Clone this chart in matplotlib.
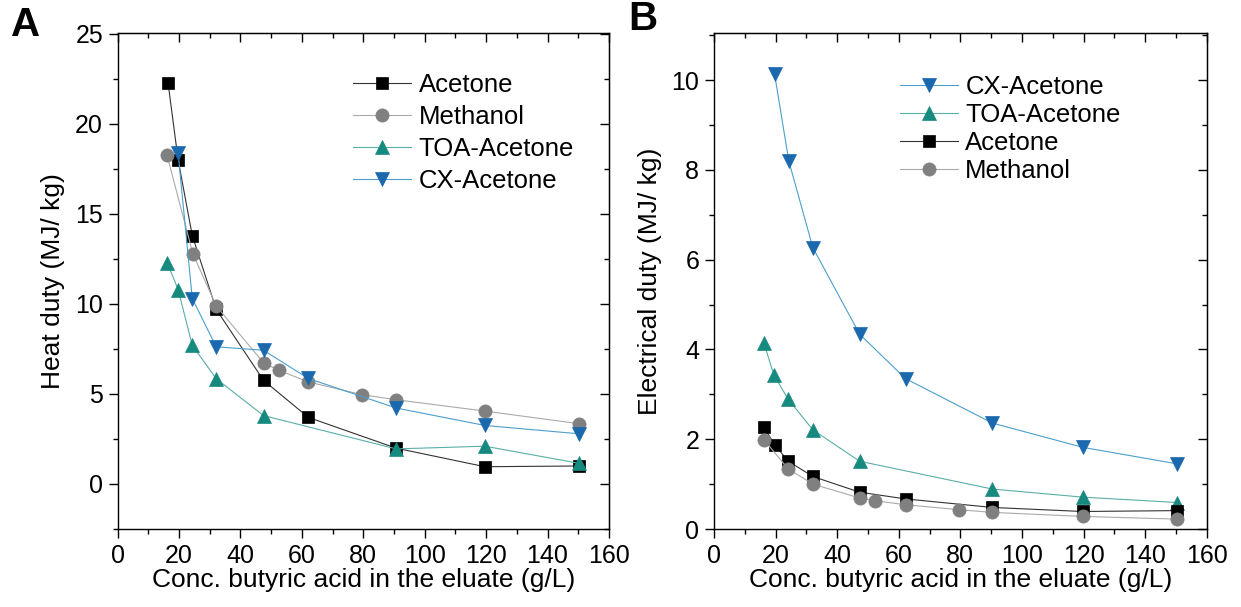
import matplotlib
matplotlib.use("Agg")
import matplotlib.pyplot as plt
from matplotlib.ticker import MultipleLocator

plt.rcParams['font.family'] = ['Liberation Sans', 'DejaVu Sans']

# ---- Panel A: Heat duty ----
a_acetone_x = [16.4, 19.7, 24.3, 32.1, 47.5, 62.1, 90.7, 119.6, 150.2]
a_acetone_y = [22.3, 18.0, 13.8, 9.7, 5.76, 3.7, 1.99, 0.96, 1.0]
a_methanol_x = [16.1, 24.5, 32.1, 47.5, 52.4, 62.1, 79.6, 90.7, 119.6, 150.2]
a_methanol_y = [18.25, 12.79, 9.89, 6.73, 6.32, 5.67, 4.96, 4.68, 4.05, 3.35]
a_toa_x = [16.1, 19.7, 24.3, 32.1, 47.5, 90.7, 119.6, 150.2]
a_toa_y = [12.3, 10.8, 7.7, 5.85, 3.8, 1.95, 2.1, 1.15]
a_cx_x = [19.7, 24.3, 32.1, 47.5, 62.1, 90.7, 119.6, 150.2]
a_cx_y = [18.37, 10.3, 7.62, 7.43, 5.86, 4.22, 3.25, 2.79]

# ---- Panel B: Electrical duty ----
b_cx_x = [19.7, 24.3, 32.1, 47.3, 62.2, 90.4, 119.7, 150.5]
b_cx_y = [10.13, 8.2, 6.27, 4.34, 3.35, 2.36, 1.82, 1.45]
b_toa_x = [16.2, 19.4, 24.1, 32.1, 47.3, 90.4, 119.7, 150.5]
b_toa_y = [4.15, 3.44, 2.89, 2.21, 1.51, 0.89, 0.71, 0.59]
b_acetone_x = [16.2, 19.7, 24.1, 32.1, 47.3, 62.2, 90.4, 119.7, 150.5]
b_acetone_y = [2.27, 1.88, 1.51, 1.17, 0.82, 0.67, 0.48, 0.39, 0.41]
b_methanol_x = [16.2, 24.1, 32.1, 47.3, 52.4, 62.2, 79.6, 90.4, 119.7, 150.5]
b_methanol_y = [1.99, 1.34, 1.0, 0.69, 0.63, 0.54, 0.43, 0.37, 0.28, 0.22]

x_label = "Conc. butyric acid in the eluate (g/L)"
ya_label = "Heat duty (MJ/ kg)"
yb_label = "Electrical duty (MJ/ kg)"

FS_TICK = 18
FS_LABEL = 19
FS_LEG = 18.5

styles = {
    'Acetone': dict(marker='s', color='#333333', mfc='black', mec='black', ms=9),
    'Methanol': dict(marker='o', color='#aaaaaa', mfc='#808080', mec='#808080', ms=9.5),
    'TOA-Acetone': dict(marker='^', color='#5aaea8', mfc='#178a80', mec='#178a80', ms=10.5),
    'CX-Acetone': dict(marker='v', color='#4c9fcc', mfc='#1a68ad', mec='#1a68ad', ms=10.5),
}

fig = plt.figure(figsize=(12.41, 6.07), dpi=100)
axA = fig.add_axes([0.0948, 0.1285, 0.3959, 0.8171])
axB = fig.add_axes([0.5753, 0.1285, 0.3971, 0.8171])

def plot(ax, name, x, y):
    s = styles[name]
    ax.plot(x, y, linestyle='-', lw=0.8, color=s['color'], marker=s['marker'],
            markersize=s['ms'], markerfacecolor=s['mfc'], markeredgecolor=s['mec'],
            markeredgewidth=0.5, label=name)

plot(axA, 'Acetone', a_acetone_x, a_acetone_y)
plot(axA, 'Methanol', a_methanol_x, a_methanol_y)
plot(axA, 'TOA-Acetone', a_toa_x, a_toa_y)
plot(axA, 'CX-Acetone', a_cx_x, a_cx_y)

plot(axB, 'CX-Acetone', b_cx_x, b_cx_y)
plot(axB, 'TOA-Acetone', b_toa_x, b_toa_y)
plot(axB, 'Acetone', b_acetone_x, b_acetone_y)
plot(axB, 'Methanol', b_methanol_x, b_methanol_y)

axA.set_xlim(0, 160)
axA.set_ylim(-2.5, 25.05)
axA.yaxis.set_major_locator(MultipleLocator(5))
axA.yaxis.set_minor_locator(MultipleLocator(2.5))
axB.set_xlim(0, 160)
axB.set_ylim(0, 11.05)
axB.yaxis.set_major_locator(MultipleLocator(2))
axB.yaxis.set_minor_locator(MultipleLocator(1))

for ax in (axA, axB):
    ax.xaxis.set_major_locator(MultipleLocator(20))
    ax.xaxis.set_minor_locator(MultipleLocator(10))
    for sp in ax.spines.values():
        sp.set_linewidth(1.0)
    ax.tick_params(which='major', direction='out', length=6.5, width=1.0,
                   labelsize=FS_TICK, pad=4)
    ax.tick_params(which='minor', direction='out', length=3.5, width=1.0)
    ax.set_xlabel(x_label, fontsize=FS_LABEL, labelpad=0)

# mirrored inward ticks on top/right
for ax in (axA, axB):
    sec_x = ax.secondary_xaxis('top')
    sec_x.xaxis.set_major_locator(MultipleLocator(20))
    sec_x.xaxis.set_minor_locator(MultipleLocator(10))
    sec_x.tick_params(which='major', direction='in', length=6.5, width=1.0, labeltop=False)
    sec_x.tick_params(which='minor', direction='in', length=3.5, width=1.0)
    sec_y = ax.secondary_yaxis('right')
    sec_y.yaxis.set_major_locator(ax.yaxis.get_major_locator())
    sec_y.yaxis.set_minor_locator(ax.yaxis.get_minor_locator())
    sec_y.tick_params(which='major', direction='in', length=6.5, width=1.0, labelright=False)
    sec_y.tick_params(which='minor', direction='in', length=3.5, width=1.0)

axA.set_ylabel(ya_label, fontsize=FS_LABEL, labelpad=7)
axB.set_ylabel(yb_label, fontsize=FS_LABEL, labelpad=7)

legA = axA.legend(loc='upper left', bbox_to_anchor=(0.479, 0.92), frameon=False,
                  fontsize=FS_LEG, handlelength=2.25, handletextpad=0.3,
                  labelspacing=0.32, borderpad=0, borderaxespad=0)
legB = axB.legend(loc='upper left', bbox_to_anchor=(0.377, 0.916), frameon=False,
                  fontsize=FS_LEG, handlelength=2.25, handletextpad=0.3,
                  labelspacing=0.16, borderpad=0, borderaxespad=0)

fig.text(26 / 1241, 1 - 25 / 607, 'A', fontsize=29, fontweight='bold',
         ha='center', va='center')
fig.text(643 / 1241, 1 - 19 / 607, 'B', fontsize=29, fontweight='bold',
         ha='center', va='center')

fig.savefig('out.png', dpi=100)
